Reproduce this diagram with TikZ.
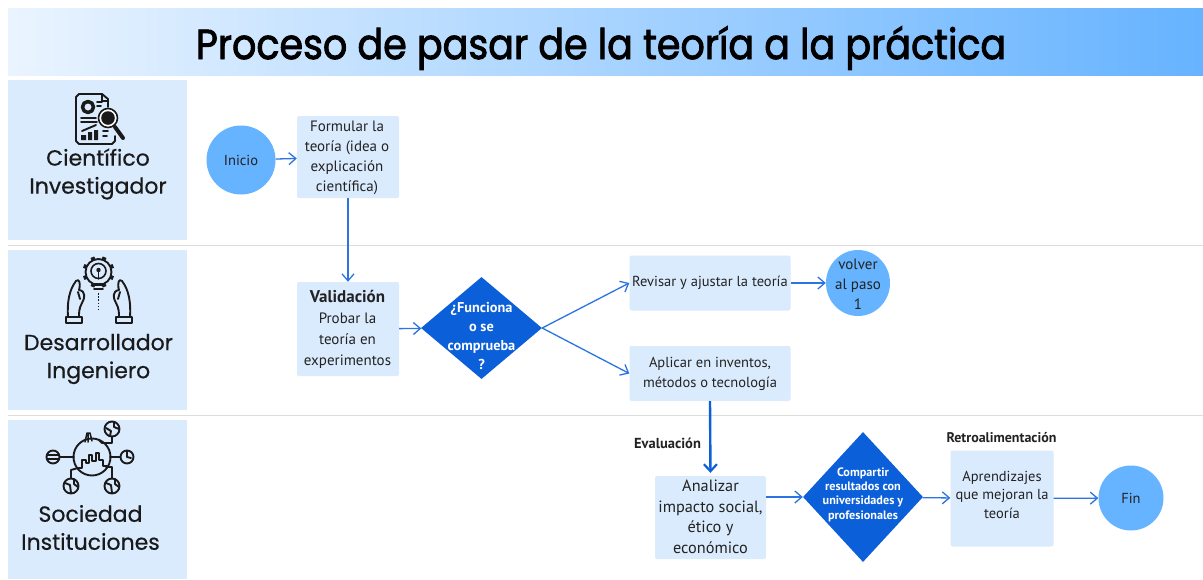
\documentclass[tikz,border=0pt]{standalone}
\usepackage{fontspec}
\setmainfont{PT Sans}
\newfontfamily\headfont[FakeBold=0.5]{Poppins}
\newfontfamily\titlefont[FakeBold=2.2]{Poppins}
\usetikzlibrary{shapes.geometric,arrows.meta}
\definecolor{pale}{HTML}{DBEBFE}
\definecolor{sky}{HTML}{66B3FF}
\definecolor{titlea}{HTML}{EAF4FF}
\definecolor{titleb}{HTML}{ABD5FF}
\definecolor{deep}{HTML}{0B5FD9}
\definecolor{flow}{HTML}{2B74E2}
\definecolor{ink}{HTML}{222222}
\definecolor{rule}{HTML}{DDDDDD}
\definecolor{iconk}{HTML}{1A1A1A}
\tikzset{
 x=1pt,y=-1pt,
 lane/.style={fill=pale,draw=none,minimum width=179pt,anchor=north west,inner sep=0},
 lanetext/.style={font=\headfont\fontsize{22}{28}\selectfont,text=iconk,align=center,inner sep=0},
 stepbox/.style={fill=pale,draw=none,rounded corners=2pt,align=center,text=ink,inner sep=0,font=\fontsize{14.5}{20}\selectfont},
 boxtext/.style={align=center,text=ink,inner sep=0,font=\fontsize{15}{20}\selectfont},
 round/.style={circle,fill=sky,draw=none,text=ink,align=center,inner sep=0,font=\fontsize{14.5}{20}\selectfont},
 decision/.style={diamond,aspect=1,fill=deep,draw=none,inner sep=0},
 decisiontext/.style={text=white,align=center,inner sep=0,font=\bfseries\fontsize{14.3}{18.7}\selectfont},
 flowline/.style={draw=flow,line width=1.3pt,-{Straight Barb[length=7pt,width=12pt,line width=1.3pt]}},
 strongline/.style={draw=deep,line width=2.4pt,shorten >=3pt,-{Straight Barb[length=7pt,width=13pt,line width=2.2pt]}},
 sep/.style={draw=rule,line width=1.2pt},
 ic/.style={draw=iconk,line width=1.9pt,line cap=round,line join=round},
 tag/.style={font=\bfseries\fontsize{14}{16}\selectfont,text=ink,inner sep=0},
}
\begin{document}
\begin{tikzpicture}
\useasboundingbox (0,0) rectangle (1203,579);
\fill[white] (0,0) rectangle (1203,579);
\shade[left color=titlea,middle color=titleb,right color=sky] (8,8) rectangle (1203,75);
\node[font=\titlefont\fontsize{42}{48}\selectfont,text=black,inner sep=0,anchor=base,xscale=0.906,transform shape] (title) at (601,59) {Proceso de pasar de la teoría a la práctica};
% lanes
\node[lane,minimum height=160pt] (lane1) at (8,80) {};
\node[lane,minimum height=160pt] (lane2) at (8,250) {};
\node[lane,minimum height=159pt] (lane3) at (8,420) {};
\draw[sep] (8,245.5) -- (1203,245.5);
\draw[sep] (8,415.5) -- (1203,415.5);
\node[lanetext] (l1) at (98,174) {Científico\\Investigador};
\node[lanetext] (l2) at (98.5,359) {Desarrollador\\Ingeniero};
\node[lanetext] (l3) at (90.5,527.5) {Sociedad\\Instituciones};
% icon 1: report with magnifier
\begin{scope}[ic]
 \draw (108,107) -- (108,99) -- (102,94) -- (79,94) -- (76,97) -- (76,141) -- (79,144) -- (112,144) -- (115,141) -- (115,136);
 \draw (102,94) -- (102,101) -- (108,101);
 \draw[line width=3.5pt] (88,107) circle (5.5);
 \draw (97,102) -- (102,102) (97,106) -- (101,106);
 \draw (81,118) -- (96,118) (81,122) -- (97,122);
 \draw (82,131) -- (96,125);
 \fill[iconk] (81,140) rectangle (86,135) (88,140) rectangle (92,132) (94,140) rectangle (98,130);
 \draw (103,131) -- (108,131) (103,136) -- (107,136);
 \fill[white] (108,118) circle (9.5);
 \draw[line width=1.6pt] (108,118) circle (9.5);
 \fill[iconk] (108,118) circle (6.8);
 \draw[line width=4pt] (115,127) -- (123,138);
\end{scope}
% icon 2: bulb gear, hands
\begin{scope}[ic]
 \foreach \a in {0,45,...,315}
  \draw[line width=4pt,line cap=butt] (98.5,272) ++(\a+22.5:12) -- ++(\a+22.5:4);
 \draw[fill=pale] (98.5,272) circle (13);
 \draw[fill=pale,line width=1.6pt] (98.5,271) circle (7.5);
 \fill[iconk] (98.5,270) circle (2.2);
 \draw[line width=1.4pt] (98.5,272) -- (98.5,279);
 \draw[line width=3pt,line cap=butt] (92,284) -- (105,284);
 \draw[line width=1.6pt] (94,289) -- (103,289);
 \draw[line width=1.6pt,line cap=butt,dash pattern=on 1.6pt off 1.6pt] (98.5,293) -- (98.5,310);
 % left hand
 \draw (68,317) .. controls (67,303) and (69,290) .. (76,281) .. controls (79,278) and (81,283) .. (79,290) .. controls (86,291) and (85,298) .. (82,303) .. controls (79,308) and (79,313) .. (79,317);
 \draw (78,292) -- (80,299);
 \draw (66,317) rectangle (82,323);
 % right hand
 \draw (130,317) .. controls (131,303) and (129,290) .. (122,281) .. controls (119,278) and (117,283) .. (119,290) .. controls (112,291) and (113,298) .. (116,303) .. controls (119,308) and (119,313) .. (119,317);
 \draw (120,292) -- (118,299);
 \draw (116,317) rectangle (132,323);
\end{scope}
% icon 3: city network
\begin{scope}[ic]
 \draw (92,457) circle (18.5);
 \draw[line width=1.5pt] (78,468) -- (82,468) -- (82,460) -- (86,460) -- (86,463) -- (89,463) -- (89,455) -- (92,455) -- (92,461) -- (96,461) -- (96,453) -- (99,453) -- (99,460) -- (103,460) -- (103,466) -- (107,466);
 \draw[line width=1.5pt] (85,442) -- (87,433) -- (90,433) -- (92,441) (88,433) -- (88,442);
 \draw (53,457) circle (6.5) (47,455) -- (59,455) (47,459) -- (59,459);
 \draw (60,457) -- (74,457);
 \draw (112,429) circle (7.5);
 \draw (112,437) -- (112,443) -- (102,443) -- (99,440);
 \draw (106,428) -- (111,431) -- (110,436) (114,422) -- (114,427) -- (119,429);
 \draw (127,457) circle (6.5) (127,452) -- (127,457) -- (131,458);
 \draw (110,457) -- (120,457);
 \draw (71,486) circle (7.5);
 \draw (71,478) -- (71,470) -- (78,468);
 \draw (112,486) circle (7.5);
 \draw (112,478) -- (112,467) -- (106,467);
 \draw (65,483) -- (70,485) -- (71,493) (74,479) -- (74,484) -- (78,487) (106,483) -- (111,485) -- (112,493) (115,479) -- (115,484) -- (119,487);
\end{scope}
% steps
\node[round,minimum size=69pt] (inicio) at (241,160) {Inicio};
\node[stepbox,minimum width=102pt,minimum height=82pt] (formular) at (348,157) {};
\node[boxtext] (formulart) at (347,158) {Formular la\\teoría (idea o\\explicación\\científica)};
\node[stepbox,minimum width=102pt,minimum height=94pt] (valid) at (348,329) {};
\node[boxtext,font=\fontsize{15}{21}\selectfont] (validt) at (347.5,329) {{\bfseries\fontsize{17}{21}\selectfont Validación}\\Probar la\\teoría en\\experimentos};
\node[decision,minimum width=121pt,minimum height=102pt] (dec1) at (481.5,328) {};
\node[decisiontext] (dec1t) at (481.5,336) {¿Funciona\\o se\\comprueba\\?};
\node[stepbox,minimum width=161pt,minimum height=55pt] (revisar) at (710,283) {Revisar y ajustar la teoría};
\node[ellipse,fill=sky,minimum width=64pt,minimum height=66pt,inner sep=0] (volver) at (858,283) {};
\node[boxtext] (volvert) at (858,284) {volver\\al paso\\1};
\node[stepbox,minimum width=161pt,minimum height=55pt] (aplicar) at (710,373.5) {Aplicar en inventos,\\métodos o tecnología};
\node[stepbox,minimum width=111pt,minimum height=83pt] (analizar) at (710.5,517.5) {};
\node[boxtext,font=\fontsize{16.3}{20.5}\selectfont] (analizart) at (710.5,517) {Analizar\\impacto social,\\ético y\\económico};
\node[decision,minimum width=120pt,minimum height=130pt] (dec2) at (863,497) {};
\node[decisiontext,font=\bfseries\fontsize{12.2}{14.4}\selectfont] (dec2t) at (863,494.5) {Compartir\\resultados con\\universidades y\\profesionales};
\node[stepbox,minimum width=103pt,minimum height=96pt] (aprend) at (1002,498.5) {};
\node[boxtext,font=\fontsize{14.5}{18.5}\selectfont] (aprendt) at (1002,494.5) {Aprendizajes\\que mejoran la\\teoría};
\node[round,minimum size=65pt] (fin) at (1131,498) {Fin};
\node[tag,font=\bfseries\fontsize{14.5}{16}\selectfont] (evaltag) at (667.5,443) {Evaluación};
\node[tag] (retrotag) at (1001.5,437.5) {Retroalimentación};
% connectors
\draw[flowline] (inicio) -- (formular);
\draw[flowline] (formular) -- (valid);
\draw[flowline] (valid) -- (dec1);
\draw[flowline] (dec1.east) -- (revisar.west);
\draw[flowline] (dec1.east) -- (aplicar.west);
\draw[flowline] (revisar) -- (volver);
\draw[strongline] (aplicar.south) -- (analizar.north);
\draw[flowline] (analizar.east |- dec2) -- (dec2.west);
\draw[flowline] (dec2) -- (aprend);
\draw[flowline] (aprend) -- (fin);
\end{tikzpicture}
\end{document}
